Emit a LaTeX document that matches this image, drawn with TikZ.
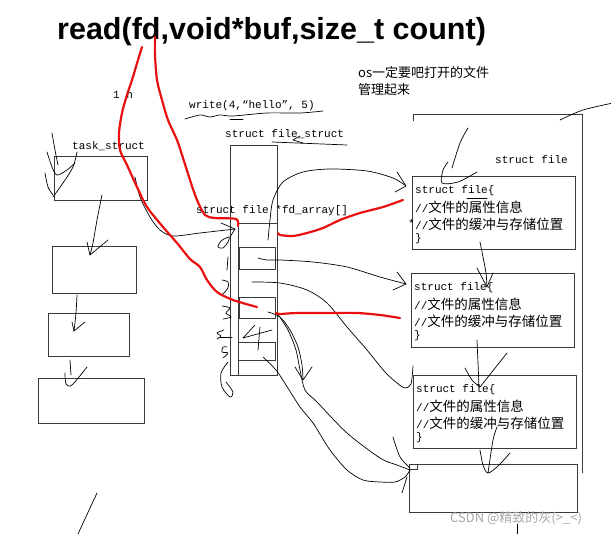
\documentclass[tikz,border=0pt]{standalone}
\usepackage{fontspec}
\setmainfont{Liberation Sans}
\setmonofont{Liberation Mono}
\newfontfamily\cjk{Noto Sans CJK SC}
\definecolor{boxc}{HTML}{3A3A3A}
\definecolor{redink}{RGB}{232,16,16}
\definecolor{wmc}{HTML}{A8A8A8}
\newcommand{\cjkf}[1]{{\cjk\fontsize{13.5}{15}\selectfont #1}}
\tikzset{
  box/.style={draw=boxc, line width=1pt, inner sep=0pt, outer sep=0pt, anchor=north west},
  pen/.style={draw=black, line width=0.7pt, line cap=round, line join=round},
  redpen/.style={draw=redink, line width=2.2pt, line cap=round, line join=round},
  mono/.style={font=\ttfamily\fontsize{11}{13}\selectfont, inner sep=0pt, anchor=west},
  cjklabel/.style={font=\cjk\fontsize{13}{15}\selectfont, inner sep=0pt, anchor=west},
}
\newcommand{\ftext}[2]{%
  \node[mono] (#1a) at ([xshift=3pt,yshift=-14pt]#2.north west) {struct file\{};
  \node[mono] (#1b) at ([xshift=3pt,yshift=-30pt]#2.north west) {//\cjkf{文件的属性信息}};
  \node[mono] (#1c) at ([xshift=3pt,yshift=-47pt]#2.north west) {//\cjkf{文件的缓冲与存储位置}};
  \node[mono] (#1d) at ([xshift=3pt,yshift=-62pt]#2.north west) {\}};
}
\begin{document}
\begin{tikzpicture}[x=1pt,y=-1pt]
\useasboundingbox[fill=white] (0,0) rectangle (611,534);

% ---- texts
\node[font=\bfseries\fontsize{30.5}{34}\selectfont, anchor=base west, inner sep=0pt] (title) at (57,40) {read(fd,void*buf,size\_t count)};
\node[cjklabel] (os1) at (358,73) {os一定要吧打开的文件};
\node[cjklabel] (os2) at (358,90) {管理起来};
\node[mono] (onen) at (113,95) {1 n};
\node[mono] (wr) at (189,106) {write(4,“hello”, 5)};
\node[mono] (fsl) at (225,134) {struct file\_struct};
\node[mono] (tsl) at (72,146) {task\_struct};
\node[mono] (fdl) at (196,211) {struct file *fd\_array[]};
\node[mono] (sfl) at (495,160) {struct file};

% ---- boxes
\node[box, minimum width=93pt, minimum height=44pt] (ts) at (54,157) {};
\node[box, minimum width=84pt, minimum height=47pt] (b2) at (52,247) {};
\node[box, minimum width=81pt, minimum height=43pt] (b3) at (48,314) {};
\node[box, minimum width=106pt, minimum height=45pt] (b4) at (38,379) {};
\node[box, minimum width=47pt, minimum height=230pt] (fs) at (230,146) {};
\draw[draw=boxc, line width=1pt] (238,376) -- (238,224) -- (277,224);
\node[box, minimum width=36pt, minimum height=22pt] (s1) at (239,248) {};
\node[box, minimum width=36pt, minimum height=21pt] (s2) at (239,298) {};
\node[box, minimum width=37pt, minimum height=18pt] (s3) at (238,343) {};
\draw[draw=boxc, line width=1pt] (413,121) -- (413,115) -- (582,115) -- (582,473);
\node[box, minimum width=163pt, minimum height=73pt] (f1) at (412,177) {};
\node[box, minimum width=163pt, minimum height=74pt] (f2) at (411,274) {};
\node[box, minimum width=163pt, minimum height=73pt] (f3) at (413,376) {};
\node[box, minimum width=168pt, minimum height=48pt] (f4) at (409,465) {};
\node[box, minimum width=8pt, minimum height=5pt] (sq) at (409,465) {};
\ftext{fa}{f1}
\ftext{fb}{f2}
\ftext{fc}{f3}
\node[mono, anchor=east] (star) at (fac.west) {*};

% ---- task_struct scribbles
\draw[pen] plot[smooth] coordinates {(52,133) (55,150) (58,165)};
\draw[pen] plot[smooth] coordinates {(47,152) (52,167) (57,175) (67,170) (75,163)};
\draw[pen] plot[smooth] coordinates {(77,152) (73,167) (63,183) (53,197)};
\draw[pen] plot[smooth] coordinates {(45,173) (48,187) (53,195)};
% chain arrows
\draw[pen] plot[smooth] coordinates {(102,195) (97,220) (93,243) (90,255)};
\draw[pen] (87,242) -- (90,255) -- (108,240);
\draw[pen] plot[smooth] coordinates {(77,295) (76,313) (74,331)};
\draw[pen] (72,322) -- (74,331) -- (85,322);
\draw[pen] (70,360) -- (71,375);
\draw[pen] plot[smooth] coordinates {(65,373) (66,384) (72,385) (87,367)};

% task_struct -> array
\draw[pen] plot[smooth] coordinates {(135,177) (140,197) (150,217) (160,230) (173,236) (200,233) (235,229)};
\draw[pen] (221,223) -- (235,229) -- (230,237);
\draw[pen] plot[smooth cycle] coordinates {(229,237) (221,241) (218,247) (223,248) (228,242)};

% array -> files
\draw[pen] plot[smooth] coordinates {(268,240) (270,220) (273,200) (283,182) (303,172) (330,169) (367,171) (393,178) (406,186)};
\draw[pen] (397,172) -- (406,186) -- (395,192);
\draw[pen] plot[smooth] coordinates {(258,258) (267,260) (280,260) (313,262) (347,267) (380,277) (406,284)};
\draw[pen] (397,272) -- (406,284) -- (393,290);
\draw[pen] plot[smooth] coordinates {(252,282) (280,283) (307,290) (327,303) (347,327) (367,350) (385,372) (397,383) (405,388) (411,384) (413,366)};
\draw[pen] plot[smooth] coordinates {(268,312) (280,317) (290,330) (298,347) (302,365) (303,379)};
\draw[pen] (295,367) -- (303,380) -- (312,367);
\draw[pen] plot[smooth] coordinates {(263,357) (276,370) (286,385) (300,407) (313,423) (330,450) (347,470) (363,480) (380,482) (395,482) (405,477) (410,470)};
\draw[pen] plot[smooth] coordinates {(277,313) (288,330) (296,350) (300,370) (305,390) (317,402) (347,433) (380,458) (397,465) (410,470)};
\draw[pen] plot[smooth] coordinates {(393,437) (400,457) (410,468)};
\draw[pen] (407,477) -- (402,493);

% file chain
\draw[pen] plot[smooth] coordinates {(480,242) (483,257) (486,273) (487,287)};
\draw[pen] (477,268) -- (487,287) -- (493,273);
\draw[pen] plot[smooth] coordinates {(477,340) (478,363) (479,387)};
\draw[pen] plot[smooth] coordinates {(465,368) (472,380) (480,387)};
\draw[pen] (480,387) -- (507,353);
\draw[pen] plot[smooth] coordinates {(497,427) (493,440) (488,473)};
\draw[pen] plot[smooth] coordinates {(480,450) (483,465) (488,473) (498,466) (510,453)};
\draw[pen] plot[smooth] coordinates {(468,128) (460,143) (452,168)};
\draw[pen] plot[smooth] coordinates {(448,162) (443,170) (442,183) (458,182) (477,172)};
\draw[pen] plot[smooth] coordinates {(560,120) (583,110) (613,103)};
\draw[pen] (467,198) -- (487,198);
\draw[pen] (517,524) -- (517,534);
\draw[pen] (97,493) -- (78,534);

% underlines
\draw[pen] plot[smooth] coordinates {(185,119) (200,115) (210,117) (220,115) (233,116) (267,113) (300,113) (323,111)};
\draw[pen] (230,119) -- (243,119);
\draw[pen] (272,142) -- (347,145);
\draw[pen] (300,136) -- (293,140) -- (303,143);

% handwritten indices
\draw[pen] (228,257) -- (227,270);
\draw[pen] plot[smooth] coordinates {(222,280) (228,282) (228,288) (222,295)};
\draw[pen] plot[smooth] coordinates {(222,306) (230,308) (226,313) (231,317) (223,319)};
\draw[pen] plot[smooth] coordinates {(224,330) (217,333) (221,336) (217,339)};
\draw[pen] (219,337) -- (232,337);
\draw[pen] plot[smooth] coordinates {(227,347) (223,347) (222,352) (228,353) (223,358)};
\draw[pen] plot[smooth] coordinates {(228,362) (221,373) (222,387) (230,397) (233,392) (226,382)};
\draw[pen] (255,325) -- (243,338) -- (272,330);
\draw[pen] (260,327) -- (258,350);

% ---- red lines
\draw[redpen] plot[smooth] coordinates {(142,47) (138,60) (132,80) (127,95) (122,113) (119,133) (120,150) (127,165) (137,187) (147,207) (163,227) (177,243) (190,259) (200,267) (207,280) (217,292) (233,300) (257,307)};
\draw[redpen] plot[smooth] coordinates {(155,37) (155,55) (157,80) (162,100) (168,120) (177,140) (183,158) (190,180) (197,200) (205,215) (215,218) (236,219) (238,226)};
\draw[redpen] plot[smooth] coordinates {(278,233) (280,235) (293,236) (307,233) (323,228) (340,220) (360,213) (383,207) (403,200)};
\draw[redpen] plot[smooth] coordinates {(276,313) (280,314) (297,313) (330,313) (357,313) (380,315) (400,318)};

% watermark
\node[font=\cjk\fontsize{13}{15}\selectfont, text=wmc, anchor=west, inner sep=0pt] (wm) at (450,518) {CSDN @精致的灰(>\_<)};
\end{tikzpicture}
\end{document}
